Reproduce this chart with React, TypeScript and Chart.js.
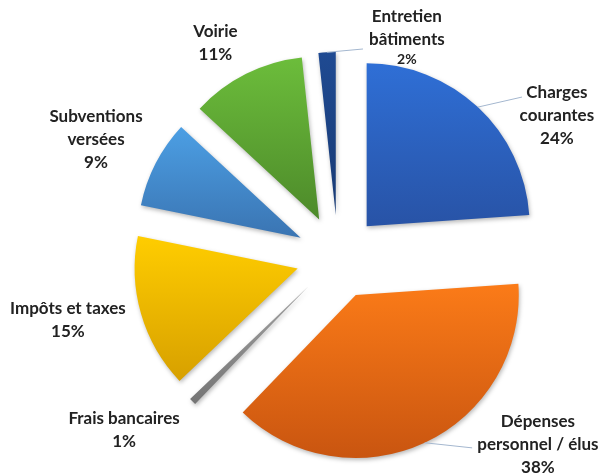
import React, { useEffect, useRef } from "react";
import { Chart, registerables } from "chart.js";

Chart.register(...registerables);

// ---- data ----
const categories = [
  "Charges\ncourantes",
  "Dépenses\npersonnel / élus",
  "Frais bancaires",
  "Impôts et taxes",
  "Subventions\nversées",
  "Voirie",
  "Entretien\nbâtiments",
];
const shares = [23.9, 38.3, 0.7, 15.3, 8.7, 11.4, 1.7];
const percentLabels = ["24%", "38%", "1%", "15%", "9%", "11%", "2%"];

// ---- styles ----
const topColors = ["#2f6fd6", "#fb7b18", "#a3a3a3", "#ffcd00", "#4c9fe4", "#6cbd3b", "#1f4a92"];
const bottomColors = ["#2853a6", "#c95510", "#747474", "#d7a000", "#3a74b2", "#4d8a2a", "#183a74"];
const RADIUS = 163;
const EXPLODE = 42;
// label anchors: [angle in degrees clockwise from top, distance from pie centre]
const labelPolar: [number, number][] = [
  [57.1, 260.7],
  [133.1, 273.8],
  [231.1, 274.9],
  [256.8, 277.4],
  [295.9, 269],
  [330.2, 246.6],
  [17.6, 227.7],
];
// leader line end points (same polar system), null = no leader
const leaderEnd: ([number, number] | null)[] = [
  [49.0, 243.8],
  [144.9, 233.3],
  null,
  null,
  null,
  null,
  [6.85, 209.5],
];
const smallPercent = [false, false, false, false, false, false, true];

const FONT = "Lato, 'DejaVu Sans', sans-serif";

function polar(cx: number, cy: number, deg: number, dist: number) {
  const a = (deg * Math.PI) / 180;
  return { x: cx + Math.sin(a) * dist, y: cy - Math.cos(a) * dist };
}

const explodePlugin = {
  id: "explodeSlices",
  beforeDatasetDraw(chart: any, args: any) {
    const ctx = chart.ctx as CanvasRenderingContext2D;
    args.meta.data.forEach((arc: any) => {
      const mid = (arc.startAngle + arc.endAngle) / 2;
      ctx.save();
      ctx.translate(Math.cos(mid) * EXPLODE, Math.sin(mid) * EXPLODE);
      ctx.shadowColor = "rgba(0,0,0,0.28)";
      ctx.shadowBlur = 4;
      ctx.shadowOffsetX = 1;
      ctx.shadowOffsetY = 2;
      arc.draw(ctx);
      ctx.restore();
    });
    return false;
  },
};

const labelPlugin = {
  id: "sliceLabels",
  afterDatasetsDraw(chart: any) {
    const ctx = chart.ctx as CanvasRenderingContext2D;
    const area = chart.chartArea;
    const cx = (area.left + area.right) / 2;
    const cy = (area.top + area.bottom) / 2;
    const arcs = chart.getDatasetMeta(0).data;
    ctx.save();
    // leaders
    ctx.strokeStyle = "#a4b7cf";
    ctx.lineWidth = 1;
    arcs.forEach((arc: any, i: number) => {
      const end = leaderEnd[i];
      if (!end) return;
      const mid = (arc.startAngle + arc.endAngle) / 2;
      const sx = arc.x + Math.cos(mid) * (EXPLODE + arc.outerRadius);
      const sy = arc.y + Math.sin(mid) * (EXPLODE + arc.outerRadius);
      const e = polar(cx, cy, end[0], end[1]);
      ctx.beginPath();
      ctx.moveTo(sx, sy);
      ctx.lineTo(e.x, e.y);
      ctx.stroke();
    });
    // texts
    ctx.fillStyle = "#222222";
    ctx.textAlign = "center";
    ctx.textBaseline = "middle";
    categories.forEach((cat, i) => {
      const p = polar(cx, cy, labelPolar[i][0], labelPolar[i][1]);
      const lines = cat.split("\n");
      const n = lines.length + 1;
      const lh = 23;
      let y = p.y - ((n - 1) / 2) * lh;
      ctx.font = `bold 17px ${FONT}`;
      lines.forEach((l) => {
        ctx.fillText(l, p.x, y);
        y += lh;
      });
      if (smallPercent[i]) {
        ctx.font = `bold 14px ${FONT}`;
        ctx.fillText(percentLabels[i], p.x, y - 3);
      } else {
        ctx.fillText(percentLabels[i], p.x, y);
      }
    });
    ctx.restore();
  },
};

function sliceGradient(c: any) {
  const i = c.dataIndex;
  const chart = c.chart;
  const area = chart.chartArea;
  if (!area || i === undefined) return topColors[i ?? 0];
  const cx = (area.left + area.right) / 2;
  const cy = (area.top + area.bottom) / 2;
  const total = shares.reduce((s, v) => s + v, 0);
  let cum = 0;
  for (let k = 0; k < i; k++) cum += shares[k];
  const a0 = -Math.PI / 2 + (2 * Math.PI * cum) / total;
  const a1 = a0 + (2 * Math.PI * shares[i]) / total;
  const ys = [cy, cy + RADIUS * Math.sin(a0), cy + RADIUS * Math.sin(a1)];
  for (const t of [-Math.PI / 2, Math.PI / 2, (3 * Math.PI) / 2]) {
    if (t > a0 && t < a1) ys.push(cy + RADIUS * Math.sin(t));
  }
  const ymin = Math.min(...ys);
  const ymax = Math.max(...ys);
  const g = chart.ctx.createLinearGradient(0, ymin, 0, ymax);
  g.addColorStop(0, topColors[i]);
  g.addColorStop(1, bottomColors[i]);
  return g;
}

export default function App() {
  const ref = useRef<HTMLCanvasElement>(null);
  useEffect(() => {
    if (!ref.current) return;
    const chart = new Chart(ref.current, {
      type: "pie",
      data: {
        labels: categories.map((c) => c.replace("\n", " ")),
        datasets: [
          {
            data: shares,
            backgroundColor: sliceGradient as any,
            borderWidth: 0,
          },
        ],
      },
      options: {
        responsive: false,
        animation: false,
        events: [],
        radius: RADIUS,
        layout: { padding: { left: 138, right: 65, top: 57, bottom: 18 } },
        plugins: { legend: { display: false }, tooltip: { enabled: false } },
      } as any,
      plugins: [explodePlugin, labelPlugin],
    });
    return () => chart.destroy();
  }, []);
  return (
    <div style={{ position: "fixed", left: 0, top: 0, width: 603, height: 475, background: "#fff" }}>
      <canvas ref={ref} width={603} height={475} style={{ width: 603, height: 475 }} />
    </div>
  );
}
